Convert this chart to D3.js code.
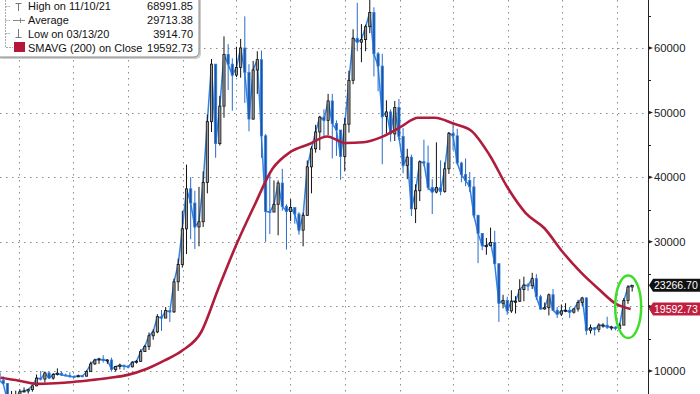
<!DOCTYPE html>
<html lang="en">
<head>
<meta charset="UTF-8">
<title>BTC vs 200-day SMA</title>
<script src="https://d3js.org/d3.v7.min.js"></script>
<style>
    body { margin: 0; padding: 0; background: #fff; overflow: hidden; }
    svg { display: block; font-family: "Liberation Sans", Arial, sans-serif; }
    .grid line { stroke: #8c8c8c; stroke-width: 1; stroke-dasharray: 1.5 4.5; }
    .axis text { font-size: 11.3px; fill: #222; }
    .legend text { font-size: 11px; fill: #111; }
</style>
</head>
<body>
<script>
    const width = 700, height = 394;
    const plotRight = 648;

    // weekly candles, one per week starting on monday
    const firstWeek = "2020-02-24";
    const weekClose = [
        8550, 8050, 5380, 5830, 5880, 6780, 6900, 7120, 7700, 8900,
        8750, 9700, 8900, 9450, 9650, 9380, 9300, 9150, 9100, 9250,
        9200, 9900, 11100, 11700, 11850, 11650, 11700, 10250, 10700, 10900,
        10750, 10650, 11350, 11500, 13000, 13800, 15450, 16050, 18400, 18200,
        19350, 19150, 23800, 26500, 32000, 38200, 36000, 32300, 33100, 39200,
        48600, 57500, 45200, 51000, 59000, 57500, 55800, 57000, 60000, 56200,
        49000, 56600, 58200, 46400, 34700, 34600, 35800, 39100, 35500, 34700,
        35300, 34300, 31800, 34100, 41600, 44400, 47000, 49300, 48800, 51800,
        48300, 47300, 43200, 48200, 55000, 61500, 60900, 61300, 63300, 65500,
        59100, 57200, 49400, 50100, 46700, 50800, 46300, 41800, 43100, 35100,
        37900, 42400, 42200, 38400, 37700, 38400, 37800, 41300, 46800, 46400,
        42200, 40400, 39500, 38500, 34100, 31300, 29400, 29400, 29900, 26600,
        20500, 20900, 19300, 20800, 20800, 22600, 23300, 23200, 24300, 21500,
        19600, 19800, 21800, 19400, 18800, 19300, 19400, 19100, 19600, 20600,
        21300, 16300, 16700, 16450, 17100, 17100, 16800, 16800, 16600, 17100,
        20900, 23000, 23266.70
    ];
    const weekHigh = [
        9700, 9190, 8150, 6900, 6950, 7200, 7470, 7250, 7750, 9460,
        10000, 9900, 9850, 9700, 10400, 9950, 9600, 9800, 9350, 9450,
        9350, 10100, 11450, 11900, 12050, 12450, 11800, 12050, 10700, 11150,
        10950, 10900, 11500, 11700, 13350, 14050, 15950, 16450, 18800, 19450,
        19900, 19400, 24300, 27400, 34800, 41950, 40000, 37900, 38500, 40900,
        49700, 58300, 57500, 52600, 61800, 60600, 58400, 60200, 61400, 64900,
        57500, 58000, 59500, 59600, 46700, 40800, 39500, 39500, 41300, 35800,
        36600, 35100, 34600, 34500, 42600, 44800, 48100, 49500, 50500, 52900,
        52900, 48800, 47300, 49200, 56500, 62900, 67000, 63700, 63600, 69000,
        66300, 59400, 59100, 51900, 50500, 51800, 52100, 47600, 44400, 43500,
        38900, 42600, 45800, 44900, 39700, 45400, 42600, 42300, 47000, 48200,
        47500, 42400, 42900, 40800, 40000, 34200, 31300, 30600, 32200, 31700,
        26700, 21800, 21500, 22500, 21600, 24200, 24600, 23600, 25200, 25000,
        21800, 20600, 21900, 22700, 19900, 20300, 20500, 19900, 19700, 21000,
        21400, 21450, 17200, 16800, 17400, 17400, 18400, 17000, 16900, 17400,
        21300, 23300, 23300
    ];
    const weekLow = [
        8500, 7900, 3915, 4450, 5700, 5900, 6780, 6500, 6800, 7650,
        8530, 8200, 8800, 8650, 9300, 9250, 9180, 8950, 8950, 9050,
        9050, 9150, 9900, 10950, 11100, 11300, 11100, 9900, 9900, 10250,
        10150, 10400, 10550, 11150, 11400, 12950, 13250, 14850, 15850, 16200,
        18200, 17600, 19000, 22400, 26000, 28100, 30400, 28900, 29300, 32300,
        37500, 47000, 43000, 44900, 49200, 53500, 50300, 55500, 55400, 51500,
        47100, 48900, 52900, 43000, 30000, 31200, 34800, 31000, 34800, 28800,
        33200, 32800, 31100, 29300, 34000, 37500, 43800, 44200, 46400, 46500,
        42900, 43300, 39600, 40900, 46900, 54400, 59500, 57800, 59500, 62300,
        55600, 53300, 42000, 46800, 45500, 45600, 45700, 40600, 39700, 34000,
        32900, 36300, 41700, 38000, 34300, 37500, 37200, 37600, 40500, 44200,
        41900, 39200, 38600, 37700, 33700, 26700, 28700, 28000, 29300, 26600,
        17600, 19700, 18700, 19000, 18900, 20700, 20800, 22400, 22700, 21000,
        19600, 19500, 18600, 19300, 18200, 18500, 19100, 18200, 18900, 19200,
        20100, 15600, 15800, 15500, 16000, 16700, 16500, 16300, 16300, 16500,
        17100, 20400, 22300
    ];

    // 200 day moving average, read monthly
    const smaDates = [
        "2020-03-01", "2020-04-01", "2020-05-01", "2020-06-01", "2020-07-01", "2020-08-01",
        "2020-09-01", "2020-10-01", "2020-11-01", "2020-12-01", "2021-01-01", "2021-02-01",
        "2021-03-01", "2021-04-01", "2021-05-01", "2021-06-01", "2021-07-01", "2021-08-01",
        "2021-09-01", "2021-10-01", "2021-11-01", "2021-12-01", "2022-01-01", "2022-02-01",
        "2022-03-01", "2022-04-01", "2022-05-01", "2022-06-01", "2022-07-01", "2022-08-01",
        "2022-09-01", "2022-10-01", "2022-11-01", "2022-12-01", "2023-01-01", "2023-01-24"
    ];
    const smaValues = [
        8950, 8500, 8000, 8100, 8300, 8600,
        8950, 9400, 10300, 11600, 13200, 16000,
        22500, 29500, 35500, 41300, 43900, 45100,
        46300, 45300, 45400, 46200, 47700, 49200,
        49200, 48300, 47200, 43400, 38400, 34400,
        32100, 28500, 25300, 22700, 20300, 19592.73
    ];

    const yTicks = [10000, 20000, 30000, 40000, 50000, 60000];
    const yLabels = [10000, 30000, 40000, 50000, 60000]; // 20000 sits under the SMA badge
    const yMinorTicks = [15000, 25000, 35000, 45000, 55000, 65000];

    const legendLabels = ["High on 11/10/21", "Average", "Low on 03/13/20", "SMAVG (200)"];
    const legendValues = ["68991.85", "29713.38", "3914.70", "19592.73"];
    const lastPrice = 23266.70;
    const lastSma = 19592.73;

    const parse = d3.timeParse("%Y-%m-%d");
    const start = parse(firstWeek);
    const candles = weekClose.map((c, i) => ({
        date: d3.timeHour.offset(d3.timeDay.offset(start, 7 * i), 84),
        open: i === 0 ? 9700 : weekClose[i - 1],
        close: c,
        high: weekHigh[i],
        low: weekLow[i]
    }));
    const sma = smaDates.map((d, i) => ({ date: parse(d), value: smaValues[i] }));

    const x = d3.scaleTime()
        .domain([parse("2020-04-01"), parse("2023-01-01")])
        .range([19, 617]);
    const y = d3.scaleLinear().domain([6440, 67430]).range([height, 0]);

    const svg = d3.select("body").append("svg")
        .attr("width", width)
        .attr("height", height);

    svg.append("clipPath").attr("id", "plot")
        .append("rect").attr("x", 0).attr("y", 0).attr("width", plotRight).attr("height", height);

    // dotted grid
    const grid = svg.append("g").attr("class", "grid");
    grid.selectAll(".h").data(yTicks).enter().append("line")
        .attr("x1", 0).attr("x2", plotRight)
        .attr("y1", d => Math.round(y(d)) + 0.5).attr("y2", d => Math.round(y(d)) + 0.5);
    const quarters = d3.timeMonth.every(3).range(parse("2020-04-01"), parse("2023-02-01"));
    grid.selectAll(".v").data(quarters).enter().append("line")
        .attr("y1", 0).attr("y2", height)
        .attr("x1", d => Math.round(x(d)) + 0.5).attr("x2", d => Math.round(x(d)) + 0.5);

    const g = svg.append("g").attr("clip-path", "url(#plot)");

    // close line under the candles
    g.append("path")
        .datum(candles)
        .attr("fill", "none")
        .attr("stroke", "#2f84e6")
        .attr("stroke-width", 1.5)
        .attr("d", d3.line().x(d => x(d.date)).y(d => y(d.close)));

    const bw = 2.2;
    const candle = g.selectAll(".candle").data(candles).enter().append("g");
    candle.append("line")
        .attr("x1", d => x(d.date)).attr("x2", d => x(d.date))
        .attr("y1", d => y(d.high)).attr("y2", d => y(d.low))
        .attr("stroke", d => d.close >= d.open ? "#111" : "#2a6cc8")
        .attr("stroke-width", 1);
    candle.append("rect")
        .attr("x", d => x(d.date) - bw / 2)
        .attr("width", bw)
        .attr("y", d => y(Math.max(d.open, d.close)))
        .attr("height", d => Math.max(1, Math.abs(y(d.open) - y(d.close))))
        .attr("fill", d => d.close >= d.open ? "#9a9a9a" : "#1f4f9e")
        .attr("stroke", d => d.close >= d.open ? "#111" : "#2f7fe0")
        .attr("stroke-width", 0.8);

    // 200 day SMA
    g.append("path")
        .datum(sma)
        .attr("fill", "none")
        .attr("stroke", "#b01c3c")
        .attr("stroke-width", 2.6)
        .attr("d", d3.line().x(d => x(d.date)).y(d => y(d.value)).curve(d3.curveMonotoneX));

    // highlight around the last bounce
    const last = candles[candles.length - 1];
    svg.append("ellipse")
        .attr("cx", x(last.date) - 4)
        .attr("cy", (y(24800) + y(15100)) / 2)
        .attr("rx", 13)
        .attr("ry", (y(15100) - y(24800)) / 2)
        .attr("fill", "none")
        .attr("stroke", "#3ede28")
        .attr("stroke-width", 2.5);

    // right axis
    const axis = svg.append("g").attr("class", "axis")
        .attr("transform", `translate(${plotRight},0)`)
        .call(d3.axisRight(y).tickValues(yLabels).tickFormat(d3.format("d")).tickSize(0).tickPadding(6));
    axis.select(".domain").remove();
    axis.append("line").attr("x1", 0.5).attr("x2", 0.5).attr("y1", 0).attr("y2", height)
        .attr("stroke", "#222");
    axis.selectAll(".tri").data(yTicks).enter().append("path")
        .attr("d", d => `M0,${y(d) - 2}L5,${y(d)}L0,${y(d) + 2}Z`)
        .attr("fill", "#222");
    axis.selectAll(".minor").data(yMinorTicks).enter().append("line")
        .attr("x1", 0).attr("x2", 3)
        .attr("y1", d => Math.round(y(d)) + 0.5).attr("y2", d => Math.round(y(d)) + 0.5)
        .attr("stroke", "#222");

    // last value badges
    const badges = [
        { value: lastPrice, fill: "#111" },
        { value: lastSma, fill: "#c0203f" }
    ];
    const badge = svg.selectAll(".badge").data(badges).enter().append("g");
    badge.append("path")
        .attr("d", d => {
            const cy = y(d.value);
            return `M${plotRight + 1},${cy}L${plotRight + 5},${cy - 6.5}L${width},${cy - 6.5}L${width},${cy + 6.5}L${plotRight + 5},${cy + 6.5}Z`;
        })
        .attr("fill", d => d.fill);
    badge.append("text")
        .attr("x", plotRight + 6)
        .attr("y", d => y(d.value) + 4)
        .attr("fill", "#fff")
        .style("font-size", "10.5px")
        .text(d => d.value.toFixed(2));

    // legend box
    const legend = svg.append("g").attr("class", "legend");
    legend.append("rect")
        .attr("x", -3).attr("y", -4).attr("width", 204).attr("height", 63).attr("rx", 5)
        .attr("fill", "#999").attr("opacity", 0.5);
    legend.append("rect")
        .attr("x", -5).attr("y", -6).attr("width", 204).attr("height", 63).attr("rx", 5)
        .attr("fill", "#fff").attr("stroke", "#8a8a8a");

    const rowY = [10, 24, 37.5, 51.5];
    legend.append("path")
        .attr("d", `M5.5,0V47.5H13M5.5,20.5H10M5.5,33.5H10M5.5,6.5H10`)
        .attr("fill", "none").attr("stroke", "#aaa").attr("stroke-dasharray", "2 1");
    legend.append("path")
        .attr("d", "M15.5,3.5H21.5M18.5,3.5V11")
        .attr("fill", "none").attr("stroke", "#777");
    legend.append("path")
        .attr("d", "M13,20.5H25M20.5,18V23")
        .attr("fill", "none").attr("stroke", "#888");
    legend.append("path")
        .attr("d", "M18.5,29V37.5M15.5,37.5H21.5")
        .attr("fill", "none").attr("stroke", "#777");
    legend.append("rect")
        .attr("x", 14).attr("y", 42).attr("width", 11).attr("height", 10)
        .attr("fill", "#b5173a");

    legend.selectAll(".lab").data(legendLabels).enter().append("text")
        .attr("x", 28).attr("y", (d, i) => rowY[i]).text(d => d);
    legend.append("text").attr("x", 99).attr("y", rowY[3]).text("on Close");
    legend.selectAll(".val").data(legendValues).enter().append("text")
        .attr("x", 193).attr("y", (d, i) => rowY[i])
        .attr("text-anchor", "end").text(d => d);
</script>
</body>
</html>
